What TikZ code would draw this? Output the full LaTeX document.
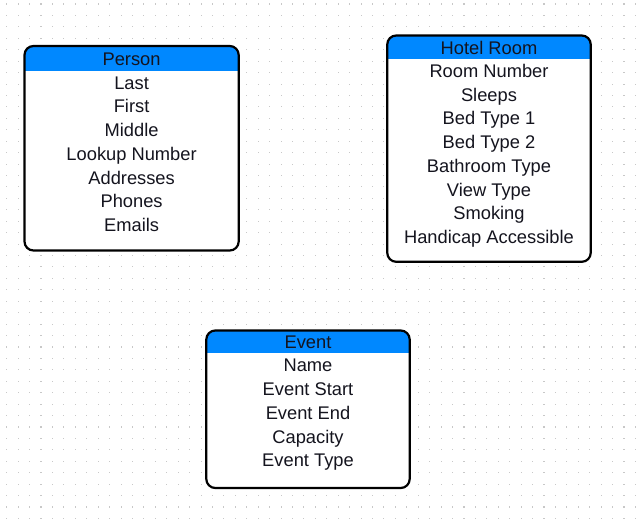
\documentclass[tikz,border=0pt]{standalone}
\usepackage{fontspec}
\setmainfont{Liberation Sans}
\definecolor{hdrblue}{RGB}{0,136,255}
\definecolor{dotgray}{RGB}{200,200,200}
\definecolor{inkc}{RGB}{20,20,30}
\tikzset{
  boxbg/.style={fill=white, draw=none, rectangle, outer sep=0pt, inner sep=0pt},
  frame/.style={draw=black, line width=2.2bp, rounded corners=9bp},
  hdr/.style={fill=hdrblue},
  txt/.style={anchor=base, inner sep=0pt, text=inkc, font=\fontsize{18.3bp}{22bp}\selectfont},
}
\begin{document}
\begin{tikzpicture}[x=1bp, y=-1bp]
\useasboundingbox[fill=white] (0,0) rectangle (641,522);
% dot grid
\foreach \i in {0,...,55} {
  \foreach \j in {0,...,45} {
    \fill[dotgray] ({6.2+11.43*\i},{3.5+11.43*\j}) rectangle ++(1.1,1.1);
  }
}
% ---------- Person ----------
\node[boxbg, minimum width=214.2bp, minimum height=204.5bp] (person) at (131.6,148.25) {};
\begin{scope}
  \clip[rounded corners=9bp] (person.north west) rectangle (person.south east);
  \fill[hdr] (person.north west) rectangle (person.east |- 0,70.7);
\end{scope}
\draw[frame] (person.north west) rectangle (person.south east);
\node[txt] (personT) at (131.6,66) {Person};
\node[txt] (person1) at (131.6,89.3) {Last};
\node[txt] (person2) at (131.6,113.0) {First};
\node[txt] (person3) at (131.6,136.7) {Middle};
\node[txt] (person4) at (131.6,160.4) {Lookup Number};
\node[txt] (person5) at (131.6,184.1) {Addresses};
\node[txt] (person6) at (131.6,207.8) {Phones};
\node[txt] (person7) at (131.6,231.5) {Emails};
% ---------- Hotel Room ----------
\node[boxbg, minimum width=203.5bp, minimum height=226.3bp] (hotel) at (489,148.65) {};
\begin{scope}
  \clip[rounded corners=9bp] (hotel.north west) rectangle (hotel.south east);
  \fill[hdr] (hotel.north west) rectangle (hotel.east |- 0,59);
\end{scope}
\draw[frame] (hotel.north west) rectangle (hotel.south east);
\node[txt] (hotelT) at (489,54.3) {Hotel Room};
\node[txt] (hotel1) at (489,77.6) {Room Number};
\node[txt] (hotel2) at (489,101.3) {Sleeps};
\node[txt] (hotel3) at (489,125.0) {Bed Type 1};
\node[txt] (hotel4) at (489,148.7) {Bed Type 2};
\node[txt] (hotel5) at (489,172.4) {Bathroom Type};
\node[txt] (hotel6) at (489,196.1) {View Type};
\node[txt] (hotel7) at (489,219.8) {Smoking};
\node[txt] (hotel8) at (489,243.5) {Handicap Accessible};
% ---------- Event ----------
\node[boxbg, minimum width=203.4bp, minimum height=157.5bp] (event) at (308,409.25) {};
\begin{scope}
  \clip[rounded corners=9bp] (event.north west) rectangle (event.south east);
  \fill[hdr] (event.north west) rectangle (event.east |- 0,353.3);
\end{scope}
\draw[frame] (event.north west) rectangle (event.south east);
\node[txt] (eventT) at (308,348.6) {Event};
\node[txt] (event1) at (308,371.9) {Name};
\node[txt] (event2) at (308,395.6) {Event Start};
\node[txt] (event3) at (308,419.3) {Event End};
\node[txt] (event4) at (308,443.0) {Capacity};
\node[txt] (event5) at (308,466.7) {Event Type};
\end{tikzpicture}
\end{document}
